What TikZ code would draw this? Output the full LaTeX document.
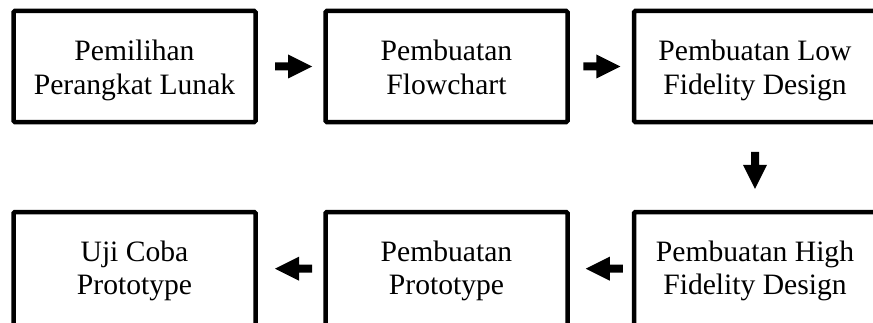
\documentclass[tikz,border=0pt]{standalone}
\usepackage{fontspec}
\setmainfont{Liberation Serif}
\usetikzlibrary{calc}
\newcommand\myTopStrut{\rule{0pt}{29.2pt}}
\newcommand\myBotStrutA{\rule[-7pt]{0pt}{0pt}}
\newcommand\myBotStrutB{\rule[-28pt]{0pt}{0pt}}
\tikzset{
  boxbase/.style={draw, line width=4.5pt, rounded corners=1.2pt, minimum width=242pt,
    align=center, inner sep=0pt, font=\fontsize{29.6pt}{33.2pt}\selectfont},
  topbox/.style={boxbase, minimum height=111pt},
  botbox/.style={boxbase, minimum height=130pt},
  blockarrow/.pic={\fill[black] (-18.5,-4) -- (-5.5,-4) -- (-5.5,-12) -- (18.5,0)
    -- (-5.5,12) -- (-5.5,4) -- (-18.5,4) -- cycle;}
}
\begin{document}
\begin{tikzpicture}[x=1pt,y=1pt]
\useasboundingbox (0,0) rectangle (873,322);
\clip (0,0) rectangle (873,322);
\fill[white] (0,0) rectangle (873,322);
\node[topbox] (b1) at (134.5,255.5) {\myTopStrut Pemilihan\\Perangkat Lunak\myBotStrutA};
\node[topbox] (b2) at (446.5,255.5) {\myTopStrut Pembuatan\\Flowchart\myBotStrutA};
\node[topbox] (b3) at (755,255.5) {\myTopStrut Pembuatan Low\\Fidelity Design\myBotStrutA};
\node[botbox] (b4) at (134.5,45) {\myTopStrut Uji Coba\\Prototype\myBotStrutB};
\node[botbox] (b5) at (446.5,45) {\myTopStrut Pembuatan\\Prototype\myBotStrutB};
\node[botbox] (b6) at (755,45) {\myTopStrut Pembuatan High\\Fidelity Design\myBotStrutB};
\path ($(b1.east)!0.5!(b2.west)$) ++(3,0) pic {blockarrow};
\path ($(b2.east)!0.5!(b3.west)$) ++(1,0) pic {blockarrow};
\path ($(b3.south)!0.5!(b6.north)$) ++(0,-3.3) pic[rotate=-90] {blockarrow};
\path ($(b5.east)!0.5!(b6.west)$) ++(3.5,8.3) pic[rotate=180] {blockarrow};
\path ($(b4.east)!0.5!(b5.west)$) ++(3,8.3) pic[rotate=180] {blockarrow};
\end{tikzpicture}
\end{document}
